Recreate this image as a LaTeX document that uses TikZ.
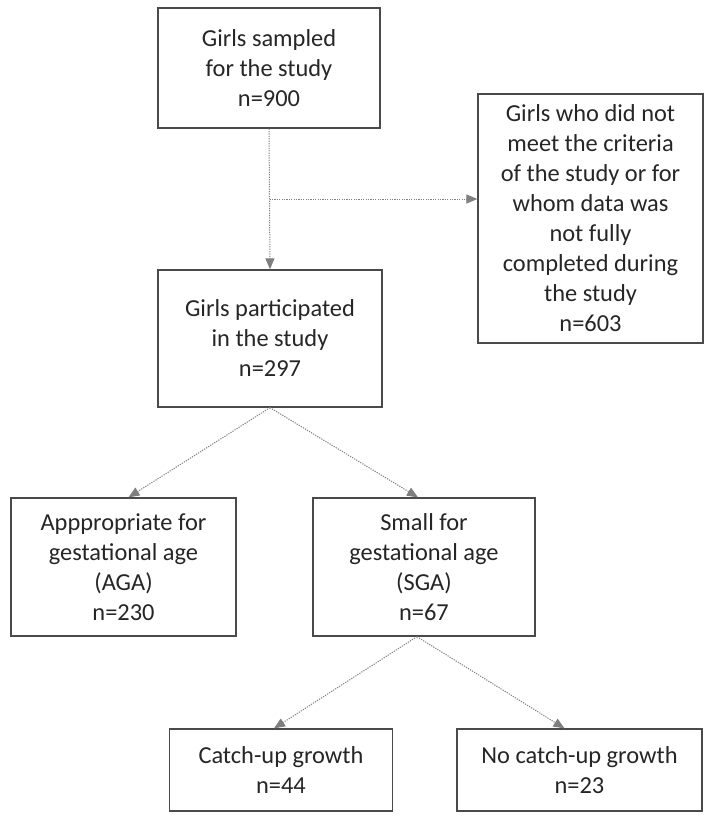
\documentclass[tikz,border=0pt]{standalone}
\usepackage{fontspec}
\setmainfont{Carlito}
\usetikzlibrary{arrows.meta}
\definecolor{boxline}{HTML}{4A4A4A}
\definecolor{conn}{HTML}{7F7F7F}
\definecolor{txt}{HTML}{262626}
\tikzset{
  boxnode/.style={draw=boxline, line width=1.3pt, rectangle, inner sep=0pt,
    align=center, text=txt, font=\fontsize{24.4}{30}\selectfont},
  connector/.style={draw=conn, line width=1pt, dash pattern=on 1.2pt off 1.2pt,
    -{Triangle[length=11pt,width=9pt,fill=conn]}}
}
\begin{document}
\begin{tikzpicture}[x=1pt,y=-1pt]
\useasboundingbox[fill=white] (0,0) rectangle (712,824);
\node[boxnode, minimum width=222pt, minimum height=120pt] (sampled) at (269,68) {Girls sampled\\for the study\\n=900};
\node[boxnode, minimum width=225pt, minimum height=249pt] (excl) at (590.5,218.5) {Girls who did not\\meet the criteria\\of the study or for\\whom data was\\not fully\\completed during\\the study\\n=603};
\node[boxnode, minimum width=224pt, minimum height=137pt] (part) at (270,338.5) {Girls participated\\in the study\\n=297};
\node[boxnode, minimum width=225pt, minimum height=138pt] (aga) at (123.5,567) {Apppropriate for\\gestational age\\(AGA)\\n=230};
\node[boxnode, minimum width=222pt, minimum height=138pt] (sga) at (424,567) {Small for\\gestational age\\(SGA)\\n=67};
\node[boxnode, minimum width=223pt, minimum height=82pt] (catch) at (281,770) {Catch-up growth\\n=44};
\node[boxnode, minimum width=245pt, minimum height=82pt] (nocatch) at (579.5,770) {No catch-up growth\\n=23};
\coordinate (junc) at (269.5,199);
\draw[connector] (sampled.south) -- (part.north);
\draw[connector] (junc) -- (junc -| excl.west);
\draw[connector] (part.south) -- ([xshift=5pt]aga.north);
\draw[connector] (part.south) -- ([xshift=-6pt]sga.north);
\draw[connector] ([xshift=-7pt]sga.south) -- ([xshift=-7pt]catch.north);
\draw[connector] ([xshift=-7pt]sga.south) -- ([xshift=-15pt]nocatch.north);
\end{tikzpicture}
\end{document}
